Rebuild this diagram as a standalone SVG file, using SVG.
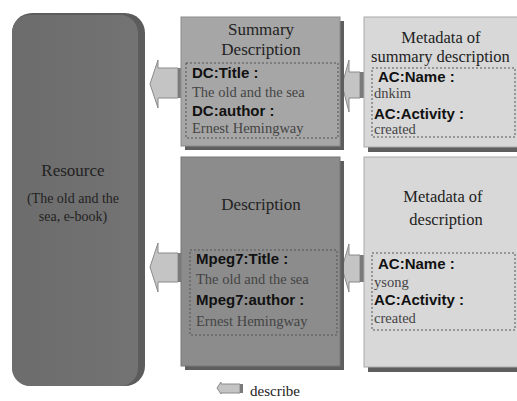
<svg xmlns="http://www.w3.org/2000/svg" width="517" height="401" viewBox="0 0 517 401">
<style>
.ser{font-family:"Liberation Serif","Times New Roman",serif;fill:#222}
.title{font-size:17px;text-anchor:middle}
.lbl{font-family:"Liberation Sans",Arial,sans-serif;font-weight:bold;font-size:15px;fill:#111}
.val{font-family:"Liberation Serif","Times New Roman",serif;font-size:14.5px;fill:#444}
.inner{fill:none;stroke:#555;stroke-width:1;stroke-dasharray:2 2}
.shadow{fill:#5e5e5e}
.arrow{fill:#c4c4c4;stroke:#8a8a8a;stroke-width:1}
.arrowside{fill:#7a7a7a}
</style>
<defs>
<linearGradient id="resg" x1="0" y1="0" x2="1" y2="0">
<stop offset="0" stop-color="#6c6c6c"/>
<stop offset="1" stop-color="#737373"/>
</linearGradient>
</defs>
<rect width="517" height="401" fill="#ffffff"/>

<g id="connectors">
<g id="arrow-summary-resource">
<path class="arrow" d="M150,84 L158,60 L158,68 L178,68 L178,98 L158,98 L158,108 Z"/>
<rect class="arrowside" x="178" y="68" width="4" height="30"/>
</g>
<g id="arrow-meta-summary">
<path class="arrow" d="M342,85 L349,60 L349,72 L360,72 L360,98 L349,98 L349,112 Z"/>
<rect class="arrowside" x="360" y="72" width="4" height="26"/>
</g>
<g id="arrow-description-resource">
<path class="arrow" d="M150,267 L158,243 L158,253 L178,253 L178,282 L158,282 L158,292 Z"/>
<rect class="arrowside" x="178" y="253" width="4" height="29"/>
</g>
<g id="arrow-meta-description">
<path class="arrow" d="M342,268 L349,244 L349,255 L360,255 L360,282 L349,282 L349,292 Z"/>
<rect class="arrowside" x="360" y="255" width="4" height="27"/>
</g>
</g>

<g id="resource">
<rect x="12" y="13" width="133" height="373" rx="20" fill="#5c5c5c"/>
<rect x="12" y="15" width="126" height="371" rx="18" fill="url(#resg)"/>
<text class="ser" x="73" y="176" font-size="17" text-anchor="middle">Resource</text>
<text class="ser" x="73" y="203" font-size="14" text-anchor="middle" fill="#333">(The old and the</text>
<text class="ser" x="73" y="221" font-size="14" text-anchor="middle" fill="#333">sea, e-book)</text>
</g>

<g id="summary-description">
<rect class="shadow" x="185" y="21" width="159" height="129"/>
<rect x="181" y="17" width="159" height="129" fill="#a6a6a6" stroke="#8c8c8c"/>
<text class="ser title" x="261" y="35">Summary</text>
<text class="ser title" x="261" y="55">Description</text>
<rect class="inner" x="186" y="63" width="152" height="75"/>
<text class="lbl" x="192" y="78">DC:Title :</text>
<text class="val" x="192" y="97">The old and the sea</text>
<text class="lbl" x="192" y="116">DC:author :</text>
<text class="val" x="192" y="133">Ernest Hemingway</text>
</g>

<g id="metadata-summary">
<rect class="shadow" x="368" y="22" width="160" height="130"/>
<rect x="364" y="17" width="160" height="130" fill="#d8d8d8" stroke="#aaaaaa"/>
<text class="ser" x="441" y="43" font-size="16.5" text-anchor="middle">Metadata of</text>
<text class="ser" x="371" y="62" font-size="16.5">summary description</text>
<rect class="inner" x="372" y="68" width="143" height="69"/>
<text class="lbl" x="378" y="82">AC:Name :</text>
<text class="val" x="374" y="98">dnkim</text>
<text class="lbl" x="374" y="119">AC:Activity :</text>
<text class="val" x="374" y="134">created</text>
</g>

<g id="description">
<rect class="shadow" x="185" y="161" width="159" height="209"/>
<rect x="181" y="157" width="159" height="209" fill="#8c8c8c" stroke="#777777"/>
<text class="ser title" x="261" y="210">Description</text>
<rect class="inner" x="190" y="250" width="147" height="85"/>
<text class="lbl" x="196" y="264">Mpeg7:Title :</text>
<text class="val" x="196" y="284">The old and the sea</text>
<text class="lbl" x="196" y="305">Mpeg7:author :</text>
<text class="val" x="196" y="326">Ernest Hemingway</text>
</g>

<g id="metadata-description">
<rect class="shadow" x="368" y="162" width="160" height="210"/>
<rect x="364" y="157" width="160" height="210" fill="#d8d8d8" stroke="#aaaaaa"/>
<text class="ser" x="443" y="202" font-size="16.5" text-anchor="middle">Metadata of</text>
<text class="ser" x="446" y="225" font-size="16.5" text-anchor="middle">description</text>
<rect class="inner" x="372" y="253" width="143" height="77"/>
<text class="lbl" x="378" y="269">AC:Name :</text>
<text class="val" x="374" y="287">ysong</text>
<text class="lbl" x="374" y="305">AC:Activity :</text>
<text class="val" x="374" y="323">created</text>
</g>

<g id="legend">
<path class="arrow" d="M217,388 L221,382 L221,384 L240,384 L240,393 L221,393 L221,394 Z"/>
<rect class="arrowside" x="240" y="384" width="3" height="9"/>
<text class="ser" x="250" y="396" font-size="15">describe</text>
</g>
</svg>
